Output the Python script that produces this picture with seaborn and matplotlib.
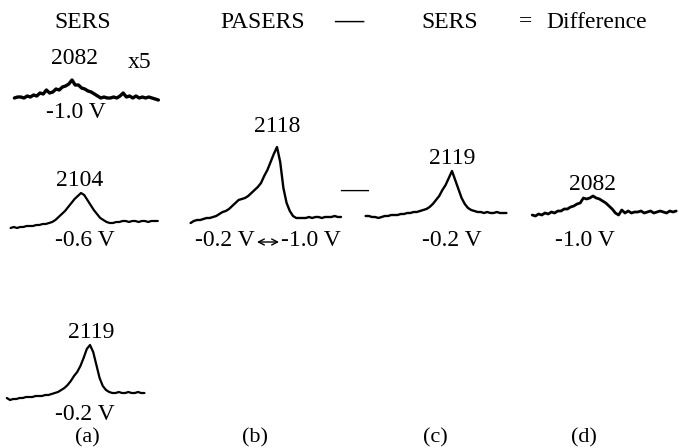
import numpy as np
import matplotlib
matplotlib.use("Agg")
import matplotlib.pyplot as plt
import seaborn as sns

sns.set_theme(style="white")
plt.rcParams["font.family"] = ["Liberation Serif", "DejaVu Serif"]

# Raman shift grids (cm^-1, 4 cm^-1 sampling) and intensities (arb. units)
a1_shift = np.arange(2010, 2194, 4)          # SERS, -1.0 V (x5)
a1_int = [4, 5, 5, 4, 6, 5, 7, 6, 9, 8, 12, 9, 10, 13, 12, 15, 16, 18, 22, 17,
          17, 14, 13, 11, 10, 8, 6, 4, 5, 4, 4, 5, 4, 6, 9, 5, 6, 4, 6, 4,
          5, 4, 5, 4, 3, 2]

a2_shift = np.arange(2016, 2204, 4)          # SERS, -0.6 V
a2_int = [2, 3, 2, 3, 3, 4, 4, 4, 5, 5, 6, 6, 7, 8, 10, 13, 16, 19, 23, 27,
          31, 34, 37, 35, 30, 25, 20, 16, 12, 10, 8, 7, 7, 8, 8, 9, 9, 8, 9, 9,
          8, 9, 9, 8, 9, 9, 9]

a3_shift = np.arange(2015, 2191, 4)          # SERS, -0.2 V
a3_int = [4, 2, 3, 3, 4, 4, 5, 5, 5, 6, 6, 6, 7, 7, 8, 9, 10, 12, 14, 17,
          21, 26, 30, 36, 44, 53, 57, 50, 37, 24, 16, 12, 10, 9, 9, 10, 9, 9,
          10, 9, 9, 10, 9, 9]

b_shift = np.arange(2010, 2202, 4)           # PASERS, -0.2 V <-> -1.0 V
b_int = [1, 3, 4, 4, 5, 6, 6, 7, 8, 10, 12, 13, 15, 18, 21, 24, 25, 26, 28, 31,
         34, 37, 41, 48, 54, 62, 70, 77, 62, 36, 21, 13, 8, 6, 6, 6, 6, 7, 6, 7,
         7, 6, 7, 7, 7, 8, 7, 7]

c_shift = np.arange(2011, 2191, 4)           # SERS, -0.2 V
c_int = [3, 3, 2, 2, 1, 2, 3, 3, 4, 4, 4, 5, 5, 6, 6, 7, 7, 8, 9, 10,
         12, 15, 19, 23, 29, 34, 41, 48, 39, 30, 21, 15, 11, 9, 8, 7, 7, 6, 7, 6,
         6, 7, 6, 6, 6]

d_shift = np.arange(2006, 2190, 4)           # difference, -1.0 V
d_int = [3, 2, 4, 3, 5, 4, 6, 5, 7, 7, 9, 9, 11, 12, 14, 15, 20, 19, 20, 22,
         20, 19, 17, 15, 12, 9, 5, 3, 8, 5, 7, 5, 6, 6, 7, 5, 6, 7, 5, 6,
         7, 6, 5, 7, 6, 7]

W, H = 679, 448
fig = plt.figure(figsize=(W / 100, H / 100), dpi=100)
fig.patch.set_facecolor("white")

# full-figure layer for the annotations, in pixel units
base = fig.add_axes([0, 0, 1, 1])
base.set_xlim(0, W)
base.set_ylim(H, 0)
base.axis("off")

PX_PER_WN = 0.8   # horizontal scale shared by every spectrum
BOX_H = 100       # height of each spectrum box in pixels (1 unit = 1 px)


def spectrum(shift, inten, left_px, base_px, lw=1.6):
    width = (shift[-1] - shift[0]) * PX_PER_WN
    ax = fig.add_axes([left_px / W, 1 - base_px / H, width / W, BOX_H / H])
    sns.lineplot(x=shift, y=inten, ax=ax, color="black", lw=lw)
    ax.set_xlim(shift[0], shift[-1])
    ax.set_ylim(0, BOX_H)
    ax.axis("off")
    for ln in ax.lines:
        ln.set_clip_on(False)
    return ax


spectrum(a1_shift, a1_int, 14.4, 102, lw=2.4)
spectrum(a2_shift, a2_int, 10.6, 230)
spectrum(a3_shift, a3_int, 6.8, 402)
spectrum(b_shift, b_int, 190.6, 224, lw=1.7)
spectrum(c_shift, c_int, 365.6, 219, lw=1.7)
spectrum(d_shift, d_int, 532.2, 218, lw=2.0)

FS_HEAD = 17
FS = 17


def txt(x, y, s, size=FS, ha="center", **kw):
    base.text(x, y, s, fontsize=size, ha=ha, va="center", color="black", **kw)


# column headers
txt(83, 22, "SERS", FS_HEAD)
txt(263, 22, "PASERS", FS_HEAD)
txt(349, 21, "\u2014", FS_HEAD + 4, fontweight="bold")
txt(450, 22, "SERS", FS_HEAD)
txt(525, 22, "=", FS_HEAD)
txt(597, 22, "Difference", FS_HEAD)

# column (a)
txt(75, 58, "2082")
txt(140, 63, "x5")
txt(76, 112, "-1.0 V")
txt(80, 181, "2104")
txt(85, 240, "-0.6 V")
txt(91, 332, "2119")
txt(85, 414, "-0.2 V")

# column (b)
txt(277, 126, "2118")
txt(255, 241, "-0.2 V", ha="right")
txt(281, 241, "-1.0 V", ha="left")
base.annotate("", xy=(257, 242), xytext=(279, 242),
              arrowprops=dict(arrowstyle="<->,head_length=0.35,head_width=0.18",
                              color="black", lw=1.0, shrinkA=0, shrinkB=0))

# minus sign between (b) and (c)
txt(354, 190, "\u2014", FS + 3, fontweight="bold")

# column (c)
txt(452, 158, "2119")
txt(452, 240, "-0.2 V")

# column (d)
txt(592, 185, "2082")
txt(585, 240, "-1.0 V")

# panel letters
for x, s in [(87, "(a)"), (255, "(b)"), (435, "(c)"), (584, "(d)")]:
    txt(x, 438, s, 16)

fig.savefig("out.png", dpi=100, facecolor="white")
